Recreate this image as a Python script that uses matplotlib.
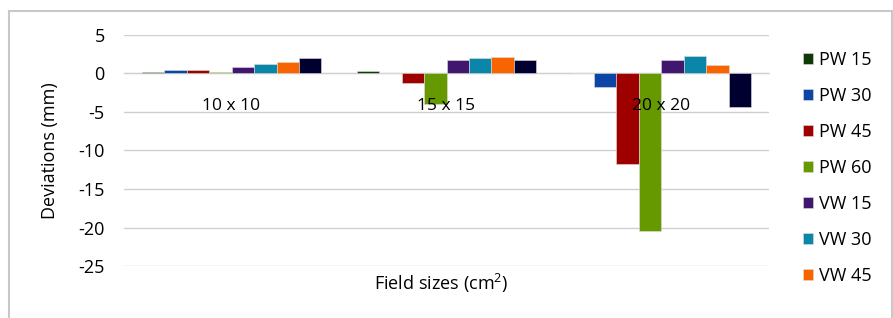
import numpy as np
import matplotlib
matplotlib.use("Agg")
import matplotlib.pyplot as plt
from matplotlib.patches import Rectangle

plt.rcParams['font.family'] = ['Open Sans', 'DejaVu Sans']
plt.rcParams['mathtext.fontset'] = 'custom'
plt.rcParams['mathtext.rm'] = 'Open Sans'

# data
field_sizes = ["10 x 10", "15 x 15", "20 x 20"]
series_names = ["PW 15", "PW 30", "PW 45", "PW 60", "VW 15", "VW 30", "VW 45", "VW 60"]
pw15 = [0.2, 0.3, 0.0]
pw30 = [0.5, 0.0, -1.8]
pw45 = [0.4, -1.2, -11.8]
pw60 = [0.2, -3.9, -20.4]
vw15 = [0.9, 1.8, 1.8]
vw30 = [1.2, 1.95, 2.25]
vw45 = [1.5, 2.1, 1.05]
vw60 = [1.95, 1.8, -4.3]
y_ticks = [5, 0, -5, -10, -15, -20, -25]

colors = ['#0f3a08', '#0c45a5', '#9e0000', '#669900',
          '#40166f', '#0a86a8', '#f86500', '#000030']
series = [pw15, pw30, pw45, pw60, vw15, vw30, vw45, vw60]

fig = plt.figure(figsize=(8.93, 3.18), dpi=100)
ax = fig.add_axes([0.1389, 0.1635, 0.7222, 0.7265])

x = np.arange(len(field_sizes))
w = 0.837 / len(series)
bars = []
for i, (vals, name, c) in enumerate(zip(series, series_names, colors)):
    b = ax.bar(x + (i - 3.5) * w, vals, width=w, color=c, label=name,
               edgecolor='#dddddd', linewidth=0.4, zorder=3)
    bars.append(b)

ax.set_xlim(-0.5, 2.5)
ax.set_ylim(-25, 5)
ax.set_yticks(y_ticks)
ax.set_yticklabels([str(t) for t in y_ticks], fontsize=13)
ax.grid(axis='y', color='#d0d0d0', linewidth=1.0, zorder=0)
ax.set_axisbelow(True)
for s in ['top', 'right', 'left']:
    ax.spines[s].set_visible(False)
ax.spines['bottom'].set_position(('data', 0))
ax.spines['bottom'].set_color('#d0d0d0')
ax.tick_params(axis='y', length=0, pad=14)
ax.set_xticks([])

# category labels sit just under the zero line, drawn over the bars
for xi, lab in zip(x, field_sizes):
    ax.annotate(lab, xy=(xi, 0), xytext=(0, -33), textcoords='offset pixels',
                ha='center', va='center', fontsize=12.5, zorder=6)

fig.text(0.056, 0.527, "Deviations (mm)", rotation=90, ha='center', va='center', fontsize=13)
fig.text(0.494, 0.11, r"Field sizes (cm$\mathregular{^2}$)", ha='center', va='center', fontsize=13)

# legend (last entry falls off the chart frame in the reference)
fig.legend(handles=bars[:7], labels=series_names[:7], loc='upper left',
           bbox_to_anchor=(0.899, 0.84), frameon=False, fontsize=13,
           handlelength=0.55, handleheight=0.55, handletextpad=0.35,
           labelspacing=1.0, borderaxespad=0, borderpad=0)

# outer chart frame
fig.patches.append(Rectangle((9 / 893, -0.05), 882.5 / 893, 1 - 11 / 318 + 0.05,
                             transform=fig.transFigure, fill=False,
                             edgecolor='#c8c8c8', linewidth=1.5))

fig.savefig("out.png", dpi=100)
